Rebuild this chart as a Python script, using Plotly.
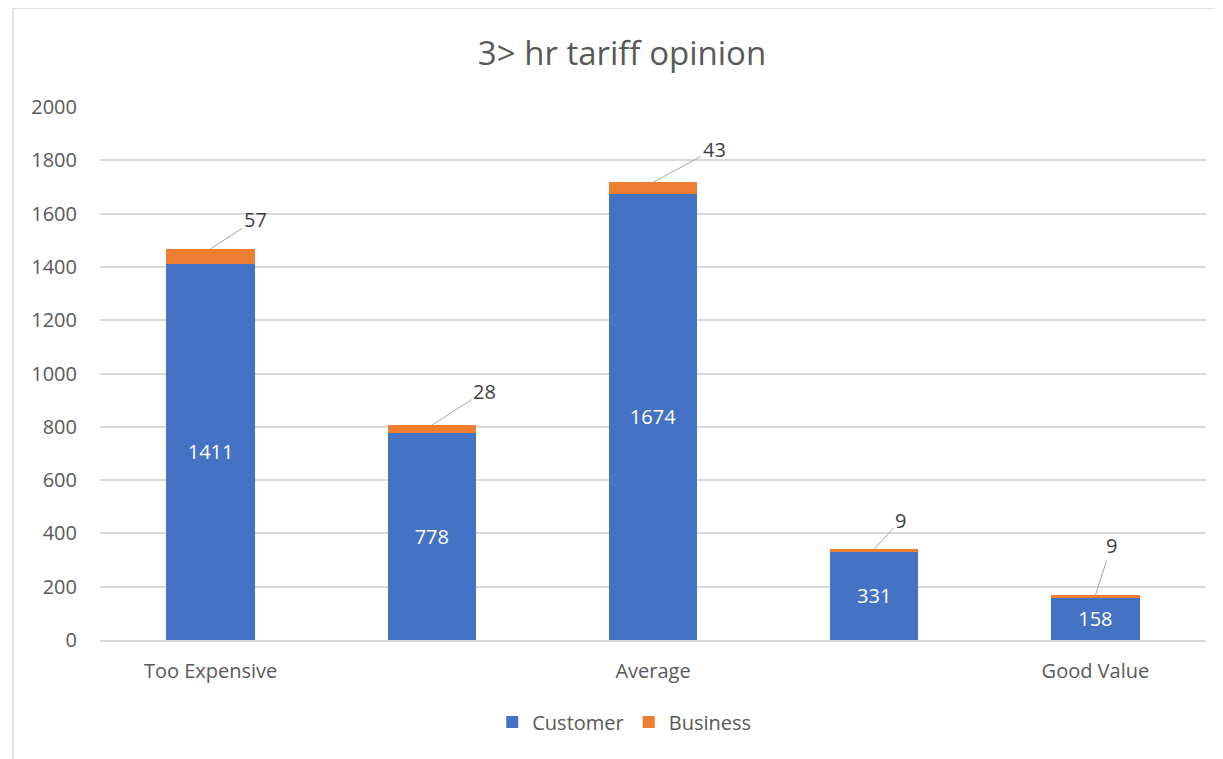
import plotly.graph_objects as go

categories = ["Too Expensive", "", "Average", "", "Good Value"]
customer = [1411, 778, 1674, 331, 158]
business = [57, 28, 43, 9, 9]
y_ticks = [0, 200, 400, 600, 800, 1000, 1200, 1400, 1600, 1800, 2000]

# label offsets (pixels) for the business callouts
label_dx = [45, 53, 61, 26, 16]
label_dy = [-29, -34, -33, -29, -50]

BLUE = "#4472C4"
ORANGE = "#ED7D31"
GREY = "#595959"
GRID = "#D9D9D9"
FONT = "Open Sans"

x = list(range(len(categories)))

# page offset (body margin) compensation
L, T = 92, 99
PW, PH = 1106, 533

fig = go.Figure()
fig.add_trace(go.Bar(
    x=x, y=customer, name="Customer", marker=dict(color=BLUE, line=dict(width=0)),
    width=0.4, text=[str(v) for v in customer], textposition="inside",
    insidetextanchor="middle", textfont=dict(color="white", size=20, family=FONT),
    hoverinfo="skip",
))
fig.add_trace(go.Bar(
    x=x, y=business, name="Business", marker=dict(color=ORANGE, line=dict(width=0)),
    width=0.4, hoverinfo="skip",
))

for i, (c, b) in enumerate(zip(customer, business)):
    fig.add_annotation(
        x=x[i], y=c + b, xref="x", yref="y", text=str(b),
        showarrow=True, arrowhead=0, arrowwidth=1, arrowcolor="#A6A6A6",
        ax=label_dx[i], ay=label_dy[i], standoff=0,
        font=dict(size=20, color="#404040", family=FONT),
    )

fig.add_shape(type="rect", xref="paper", yref="paper",
              x0=(5 - L) / PW, x1=1.05, y0=-0.3, y1=(T + PH - 0) / PH,
              line=dict(color=GRID, width=1.5), fillcolor="rgba(0,0,0,0)", layer="below")

fig.update_layout(
    width=1223, height=759,
    barmode="stack",
    bargap=0.6,
    plot_bgcolor="white", paper_bgcolor="white",
    margin=dict(l=L, r=1223 - L - PW, t=T, b=759 - T - PH),
    title=dict(text="3> hr tariff opinion", x=614 / 1223, xanchor="center",
               y=1 - 45 / 759, yanchor="middle", yref="container", xref="container",
               font=dict(size=33, color=GREY, family=FONT)),
    font=dict(family=FONT, color=GREY),
    legend=dict(orientation="h", x=0.474, xanchor="center", y=-0.154, yanchor="middle",
                font=dict(size=20, color=GREY, family=FONT), traceorder="normal",
                itemwidth=30),
    showlegend=True,
)
fig.update_xaxes(
    range=[-0.5, 4.5], tickvals=x, ticktext=categories, showgrid=False,
    showline=True, linecolor=GRID, linewidth=1.5, ticks="",
    tickfont=dict(size=20, color=GREY, family=FONT), zeroline=False,
    ticklabelstandoff=12,
)
fig.update_yaxes(
    range=[0, 2000], tickvals=y_ticks, showgrid=True, gridcolor=GRID, gridwidth=1.5,
    showline=False, ticks="", zeroline=False,
    tickfont=dict(size=20, color=GREY, family=FONT), ticklabelstandoff=22,
)

fig.write_html("out.html")
